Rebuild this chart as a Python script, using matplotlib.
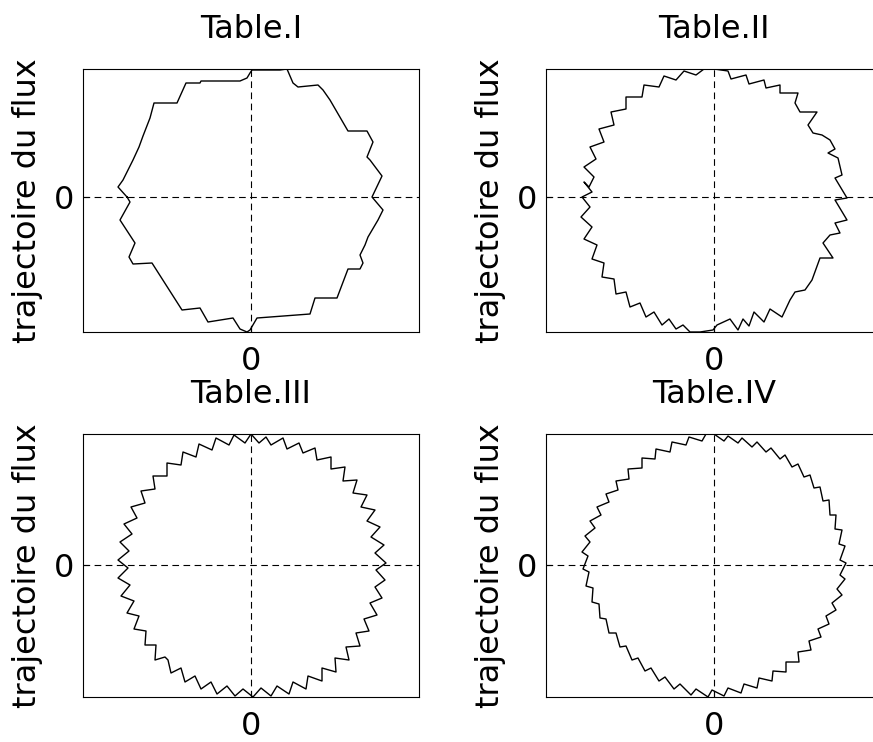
import numpy as np
import matplotlib.pyplot as plt

# flux trajectories, vertices as (phi_d, phi_q), one list per table
titles = ['Table.I', 'Table.II', 'Table.III', 'Table.IV']

t1 = [(-1.24, 0.00), (-1.33, 0.10), (-1.28, 0.17), (-1.18, 0.37), (-1.12, 0.50), (-1.08, 0.61),
      (-1.01, 0.79), (-0.97, 0.94), (-0.74, 0.94), (-0.65, 1.14), (-0.51, 1.14), (-0.50, 1.16),
      (-0.11, 1.16), (-0.04, 1.19), (-0.01, 1.24), (0.01, 1.27), (0.29, 1.27), (0.36, 1.28),
      (0.42, 1.14), (0.47, 1.10), (0.67, 1.12), (0.72, 1.07), (0.79, 0.97), (0.97, 0.66),
      (1.16, 0.66), (1.22, 0.55), (1.16, 0.40), (1.19, 0.37), (1.31, 0.21), (1.21, 0.00),
      (1.32, -0.13), (1.27, -0.23), (1.17, -0.40), (1.14, -0.48), (1.09, -0.58), (1.12, -0.66),
      (1.09, -0.72), (0.97, -0.72), (0.86, -1.01), (0.64, -1.01), (0.59, -1.17), (0.06, -1.21),
      (-0.01, -1.33), (-0.04, -1.35), (-0.11, -1.32), (-0.18, -1.21), (-0.43, -1.25),
      (-0.51, -1.11), (-0.69, -1.13), (-0.99, -0.66), (-1.18, -0.67), (-1.22, -0.60),
      (-1.16, -0.46), (-1.31, -0.23), (-1.21, -0.05), (-1.24, 0.00)]

t2 = [(0.00, 1.28), (0.14, 1.26), (0.17, 1.18), (0.32, 1.22), (0.35, 1.13), (0.50, 1.17),
      (0.52, 1.09), (0.66, 1.12), (0.66, 1.04), (0.84, 1.04), (0.81, 0.94), (0.86, 0.85),
      (1.03, 0.85), (0.94, 0.72), (0.99, 0.64), (1.08, 0.62), (1.16, 0.57), (1.21, 0.48),
      (1.14, 0.44), (1.24, 0.39), (1.28, 0.22), (1.21, 0.19), (1.33, -0.01), (1.21, -0.03),
      (1.33, -0.23), (1.21, -0.26), (1.26, -0.36), (1.16, -0.38), (1.09, -0.46), (1.19, -0.61),
      (1.06, -0.61), (0.98, -0.83), (0.91, -0.93), (0.81, -0.95), (0.76, -1.03), (0.68, -1.20),
      (0.56, -1.12), (0.50, -1.25), (0.40, -1.15), (0.35, -1.29), (0.29, -1.22), (0.24, -1.33),
      (0.16, -1.22), (0.03, -1.28), (-0.01, -1.33), (-0.14, -1.35), (-0.24, -1.35),
      (-0.31, -1.28), (-0.38, -1.32), (-0.45, -1.22), (-0.52, -1.28), (-0.60, -1.15),
      (-0.68, -1.20), (-0.74, -1.06), (-0.84, -1.10), (-0.88, -0.95), (-0.98, -0.97),
      (-1.00, -0.82), (-1.12, -0.80), (-1.10, -0.66), (-1.22, -0.62), (-1.17, -0.48),
      (-1.30, -0.42), (-1.22, -0.30), (-1.33, -0.20), (-1.24, -0.10), (-1.32, 0.00),
      (-1.22, 0.05), (-1.30, 0.15), (-1.25, 0.10), (-1.20, 0.20), (-1.30, 0.30), (-1.18, 0.38),
      (-1.24, 0.50), (-1.10, 0.55), (-1.15, 0.68), (-1.00, 0.72), (-1.03, 0.85), (-0.88, 0.88),
      (-0.88, 1.00), (-0.72, 1.00), (-0.70, 1.12), (-0.55, 1.10), (-0.50, 1.21), (-0.38, 1.17),
      (-0.30, 1.26), (-0.18, 1.22), (-0.10, 1.28), (0.00, 1.28)]

t3 = [(0.00, 1.31), (0.08, 1.22), (0.15, 1.28), (0.20, 1.20), (0.32, 1.27), (0.36, 1.16),
      (0.48, 1.22), (0.52, 1.12), (0.64, 1.17), (0.66, 1.05), (0.80, 1.08), (0.80, 0.96),
      (0.94, 0.98), (0.92, 0.84), (1.06, 0.85), (1.02, 0.72), (1.16, 0.70), (1.10, 0.58),
      (1.24, 0.55), (1.16, 0.44), (1.29, 0.38), (1.20, 0.28), (1.33, 0.20), (1.24, 0.12),
      (1.35, 0.02), (1.25, -0.05), (1.34, -0.15), (1.24, -0.22), (1.31, -0.33), (1.19, -0.38),
      (1.26, -0.50), (1.13, -0.54), (1.18, -0.66), (1.05, -0.68), (1.09, -0.81), (0.95, -0.82),
      (0.98, -0.95), (0.84, -0.93), (0.85, -1.07), (0.71, -1.03), (0.71, -1.16), (0.57, -1.11),
      (0.55, -1.24), (0.42, -1.17), (0.38, -1.29), (0.26, -1.21), (0.20, -1.31), (0.10, -1.23),
      (0.02, -1.32), (-0.08, -1.24), (-0.16, -1.31), (-0.24, -1.21), (-0.34, -1.29),
      (-0.40, -1.17), (-0.50, -1.24), (-0.56, -1.11), (-0.66, -1.17), (-0.70, -1.03),
      (-0.80, -1.08), (-0.83, -0.95), (-0.86, -0.92), (-0.96, -0.95), (-0.95, -0.80),
      (-1.06, -0.80), (-1.05, -0.66), (-1.17, -0.64), (-1.12, -0.51), (-1.24, -0.48),
      (-1.17, -0.36), (-1.30, -0.31), (-1.21, -0.20), (-1.33, -0.13), (-1.23, -0.03),
      (-1.33, 0.05), (-1.22, 0.14), (-1.31, 0.23), (-1.19, 0.31), (-1.27, 0.41), (-1.14, 0.47),
      (-1.20, 0.58), (-1.06, 0.62), (-1.10, 0.74), (-0.96, 0.76), (-0.98, 0.89), (-0.84, 0.89),
      (-0.84, 1.02), (-0.70, 1.00), (-0.68, 1.13), (-0.55, 1.08), (-0.52, 1.21), (-0.39, 1.15),
      (-0.35, 1.27), (-0.22, 1.20), (-0.17, 1.30), (-0.06, 1.22), (0.00, 1.31)]

t4 = [(0.00, 1.31), (0.10, 1.24), (0.14, 1.29), (0.24, 1.22), (0.28, 1.27), (0.38, 1.18),
      (0.43, 1.23), (0.52, 1.13), (0.57, 1.17), (0.66, 1.06), (0.71, 1.10), (0.78, 0.98),
      (0.84, 1.01), (0.90, 0.88), (0.96, 0.90), (1.00, 0.77), (1.06, 0.78), (1.09, 0.64),
      (1.15, 0.65), (1.16, 0.50), (1.22, 0.50), (1.21, 0.36), (1.28, 0.35), (1.25, 0.21),
      (1.31, 0.19), (1.26, 0.05), (1.32, 0.02), (1.26, -0.10), (1.31, -0.14), (1.23, -0.24),
      (1.28, -0.30), (1.18, -0.38), (1.22, -0.45), (1.12, -0.51), (1.15, -0.59), (1.04, -0.64),
      (1.07, -0.72), (0.95, -0.76), (0.97, -0.85), (0.84, -0.87), (0.85, -0.97), (0.72, -0.97),
      (0.72, -1.07), (0.59, -1.06), (0.58, -1.16), (0.45, -1.13), (0.43, -1.23), (0.30, -1.19),
      (0.27, -1.28), (0.14, -1.23), (0.10, -1.31), (-0.02, -1.25), (-0.06, -1.32),
      (-0.18, -1.24), (-0.23, -1.30), (-0.34, -1.19), (-0.40, -1.24), (-0.49, -1.12),
      (-0.55, -1.16), (-0.63, -1.03), (-0.69, -1.06), (-0.76, -0.93), (-0.82, -0.95),
      (-0.88, -0.81), (-0.94, -0.82), (-0.98, -0.68), (-1.05, -0.68), (-1.08, -0.54),
      (-1.14, -0.53), (-1.15, -0.39), (-1.22, -0.37), (-1.21, -0.23), (-1.28, -0.21),
      (-1.25, -0.07), (-1.31, -0.04), (-1.26, 0.09), (-1.32, 0.13), (-1.24, 0.23),
      (-1.29, 0.29), (-1.19, 0.37), (-1.24, 0.44), (-1.13, 0.50), (-1.17, 0.58), (-1.05, 0.63),
      (-1.08, 0.71), (-0.96, 0.75), (-0.98, 0.84), (-0.85, 0.86), (-0.86, 0.96), (-0.72, 0.97),
      (-0.72, 1.07), (-0.59, 1.06), (-0.58, 1.16), (-0.44, 1.13), (-0.42, 1.23), (-0.28, 1.20),
      (-0.25, 1.28), (-0.12, 1.24), (-0.08, 1.31), (0.00, 1.31)]

traj = [t1, t2, t3, t4]
xlims = [(-1.68, 1.68)] * 4
ylims = [(-1.35, 1.28), (-1.35, 1.28), (-1.32, 1.31), (-1.32, 1.31)]

fig = plt.figure(figsize=(8.73, 7.42), dpi=100)
W, H = 336 / 873, 263 / 742
pos = [(83 / 873, 410 / 742), (546 / 873, 410 / 742),
       (83 / 873, 45 / 742), (546 / 873, 45 / 742)]

for i in range(4):
    ax = fig.add_axes([pos[i][0], pos[i][1], W, H])
    d, q = np.array(traj[i]).T
    ax.plot(d, q, color='k', lw=1.0)
    ax.axhline(0, color='k', lw=0.8, ls=(0, (6, 4)))
    ax.axvline(0, color='k', lw=0.8, ls=(0, (6, 4)))
    ax.set_xlim(xlims[i])
    ax.set_ylim(ylims[i])
    ax.set_xticks([0])
    ax.set_yticks([0])
    ax.tick_params(axis='x', direction='in', length=4, pad=10, labelsize=23)
    ax.tick_params(axis='y', direction='in', length=4, pad=6.5, labelsize=23)
    for s in ax.spines.values():
        s.set_linewidth(0.8)
    ax.set_title(titles[i], fontsize=23, pad=22)
    ax.set_ylabel('trajectoire du flux', fontsize=23)
    ax.yaxis.set_label_coords(-0.12, 0.5)

fig.savefig('out.png', dpi=100)
